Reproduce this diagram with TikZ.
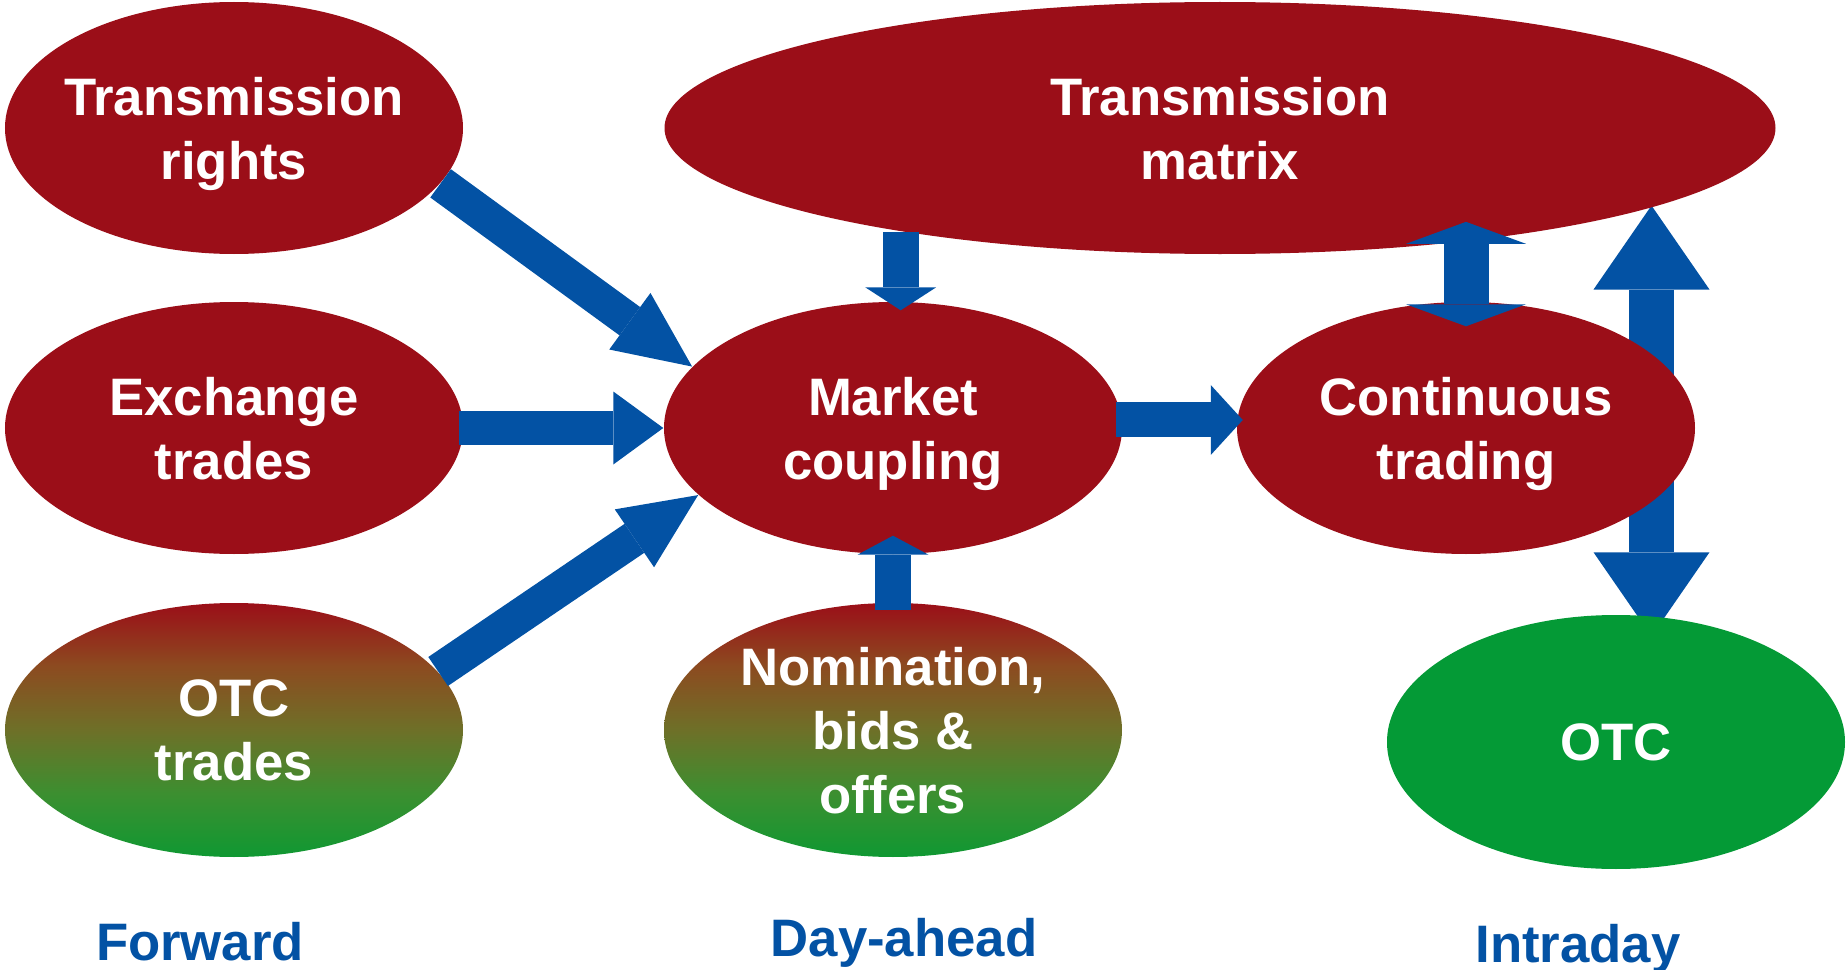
\documentclass[tikz,border=0pt]{standalone}
\usepackage{fontspec}
\setmainfont{Liberation Sans}
\usetikzlibrary{shapes.geometric}
\usetikzlibrary{arrows.meta}
\usetikzlibrary{backgrounds}

\definecolor{marketred}{RGB}{155,14,24}
\definecolor{fadeone}{RGB}{140,75,32}
\definecolor{fadetwo}{RGB}{110,112,40}
\definecolor{fadethree}{RGB}{60,143,48}
\definecolor{fadegreen}{RGB}{15,152,50}
\definecolor{marketgreen}{RGB}{4,154,54}
\definecolor{flowblue}{RGB}{3,82,164}
\pgfdeclareverticalshading{otcfade}{100bp}{color(0bp)=(fadegreen); color(25bp)=(fadegreen); color(37.5bp)=(fadethree); color(50bp)=(fadetwo); color(62.5bp)=(fadeone); color(75bp)=(marketred); color(100bp)=(marketred)}

\begin{document}
\begin{tikzpicture}[every node/.style={ellipse, minimum width=4.58cm, minimum height=2.52cm, inner sep=-0.6cm, align=center, text=white, text depth=0pt, font=\bfseries\fontsize{15}{18.2}\selectfont},
    redbox/.style={fill=marketred},
    mixbox/.style={shading=otcfade},
    greenbox/.style={fill=marketgreen},
    flow/.style={draw=flowblue, line width=0.35cm},
    stage/.style={rectangle, minimum width=0pt, minimum height=0pt, inner sep=0pt, anchor=base, text=flowblue}]
            \useasboundingbox (0,0) rectangle (18.46,-9.70);

            % Nodos
            \node[redbox] (rights) at (2.34,-1.28) {Transmission\\rights};
            \node[redbox] (exchange) at (2.34,-4.28) {Exchange\\trades};
            \node[mixbox, minimum height=2.54cm] (otctrades) at (2.34,-7.30) {OTC\\trades};
            \node[redbox, minimum width=11.11cm] (matrix) at (12.20,-1.28) {Transmission\\matrix};
            \node[redbox] (coupling) at (8.93,-4.28) {Market\\coupling};
            \node[mixbox, minimum height=2.54cm] (nomination) at (8.93,-7.30) {Nomination,\\bids \&\\offers};
            \node[redbox] (continuous) at (14.66,-4.28) {Continuous\\trading};
            \node[greenbox, minimum height=2.54cm] (otc) at (16.16,-7.42) {OTC};
            \coordinate (otcport) at ([xshift=0.355cm]otc.north);

            % Flechas
            \begin{pgfonlayer}{background}
            \draw[flow, line width=0.45cm, {Triangle[length=0.84cm, width=1.16cm, line width=0pt]}-{Triangle[length=0.84cm, width=1.16cm, line width=0pt]}, shorten >=-0.22cm] (otcport |- matrix.-10) -- (otcport);
            \end{pgfonlayer}
            \draw[flow, -{Triangle[length=0.77cm, width=0.70cm, line width=0pt]}] (rights.-15) -- (coupling.163);
            \draw[flow, line width=0.34cm, -{Triangle[length=0.50cm, width=0.73cm, line width=0pt]}, shorten <=-0.05cm] (exchange.east) -- (coupling.west);
            \draw[flow, -{Triangle[length=0.77cm, width=0.70cm, line width=0pt]}] (otctrades.16) -- (coupling.-161);
            \draw[flow, line width=0.36cm, -{Triangle[length=0.23cm, width=0.71cm, line width=0pt]}, shorten >=-0.09cm] (matrix.198) -- (matrix.198 |- coupling.north);
            \draw[flow, line width=0.36cm, -{Triangle[length=0.19cm, width=0.71cm, line width=0pt]}, shorten <=-0.08cm, shorten >=-0.19cm] (nomination.north) -- (coupling.south);
            \draw[flow, -{Triangle[length=0.32cm, width=0.70cm, line width=0pt]}, shorten <=-0.06cm, shorten >=-0.06cm] (coupling.2) -- (continuous.178);
            \draw[flow, line width=0.45cm, {Triangle[length=0.22cm, width=1.20cm, line width=0pt]}-{Triangle[length=0.22cm, width=1.20cm, line width=0pt]}, shorten <=-0.20cm, shorten >=-0.25cm] (continuous.north |- matrix.-25) -- (continuous.north);

            % Etiquetas
            \node[stage] (forward) at (2.00,-9.60) {Forward};
            \node[stage] (dayahead) at (9.04,-9.56) {Day-ahead};
            \node[stage] (intraday) at (15.78,-9.62) {Intraday};
          \end{tikzpicture}
\end{document}
